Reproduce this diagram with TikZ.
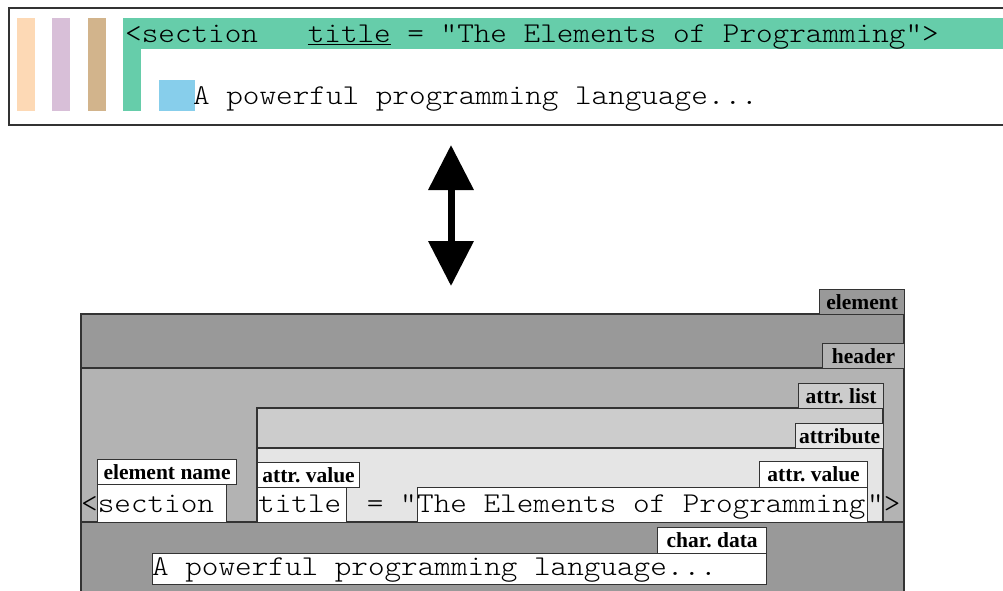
\documentclass[tikz,border=0pt]{standalone}
\usepackage{fontspec}
\setmainfont{Liberation Serif}
\newfontfamily\codefont{Latin Modern Mono Light}[FakeStretch=1.102]
\usetikzlibrary{arrows.meta}
\definecolor{peach}{HTML}{FDD9B5}
\definecolor{lilac}{HTML}{D8BFD8}
\definecolor{tanbar}{HTML}{D2B48C}
\definecolor{seagreen}{HTML}{66CDAA}
\definecolor{sky}{HTML}{87CEEB}
\definecolor{edge}{HTML}{333333}
\definecolor{elemgray}{HTML}{999999}
\definecolor{headgray}{HTML}{B3B3B3}
\definecolor{listgray}{HTML}{CCCCCC}
\definecolor{attrgray}{HTML}{E5E5E5}
\begin{document}
\begin{tikzpicture}[x=1pt,y=-1pt,
  code/.style={font=\codefont\fontsize{28.7}{30}\selectfont, inner sep=0pt, anchor=base west},
  tag/.style={draw=edge, line width=1.2pt, font=\bfseries\fontsize{21.5}{24}\selectfont,
              inner sep=0pt, text height=14pt, text depth=0pt, anchor=north west},
  region/.style={draw=edge, line width=1.2pt},
  plain/.style={draw=edge, line width=1.2pt, fill=white, inner sep=0pt, anchor=north west}]
\useasboundingbox (0,0) rectangle (1003,590);
\fill[white] (0,0) rectangle (1003,590);

% --- source text with coloured nesting bars ---
\draw[edge, line width=2pt] (9,8) rectangle (1012,125);
\fill[peach]   (17,18) rectangle (35,111);
\fill[lilac]   (52,18) rectangle (70,111);
\fill[tanbar]  (88,18) rectangle (106,111);
\fill[seagreen] (123,18) rectangle (1012,49);
\fill[seagreen] (123,49) rectangle (141,111);
\fill[sky]     (159,80) rectangle (195,111);
\node[code] (srcline) at (125,42.7) {<section\ \ \ \underline{title} = "The Elements of Programming">};
\node[code] (srcdata) at (193,104.7) {A powerful programming language...};

% --- two-way arrow ---
\coordinate (arrowtop) at (451,145);
\coordinate (arrowbot) at (451,286);
\draw[line width=7pt, {Triangle[width=44pt,length=45pt]}-{Triangle[width=44pt,length=45pt]}] (arrowtop) -- (arrowbot);

% --- nested structure ---
\draw[region, fill=elemgray] (81,314) rectangle (904,600);
\draw[region, fill=headgray] (81,368) rectangle (904,522);
\draw[region, fill=listgray] (257,408) rectangle (883,522);
\draw[region, fill=attrgray] (257,448) rectangle (883,522);

\node[tag, fill=elemgray, minimum width=85pt,  minimum height=25pt] (tagelement) at (819,289) {element};
\node[tag, fill=headgray, minimum width=82pt,  minimum height=25pt] (tagheader)  at (822,343) {header};
\node[tag, fill=listgray, minimum width=85pt,  minimum height=25pt] (taglist)    at (798,383) {attr.\ list};
\node[tag, fill=attrgray, minimum width=88pt,  minimum height=25pt] (tagattr)    at (795,423) {attribute};
\node[tag, fill=white,    minimum width=139pt, minimum height=25pt] (tagname)    at (97,459)  {element name};
\node[tag, fill=white,    minimum width=102pt, minimum height=25pt] (tagvalL)    at (257,462) {attr.\ value};
\node[tag, fill=white,    minimum width=108pt, minimum height=26pt] (tagvalR)    at (759,461) {attr.\ value};
\node[tag, fill=white,    minimum width=109pt, minimum height=26pt] (tagchar)    at (657,527) {char.\ data};

\node[plain, minimum width=129pt, minimum height=38pt] (namebox)  at (97,484)  {};
\node[plain, minimum width=89pt,  minimum height=35pt] (titlebox) at (257,487) {};
\node[plain, minimum width=450pt, minimum height=35pt] (valuebox) at (417,487) {};
\node[plain, minimum width=614pt, minimum height=31pt] (charbox)  at (152,553) {};

\node[code] (ltsign)    at (81,512)  {<};
\node[code] (nametext)  at (97.6,512) {section};
\node[code] (titletext) at (258,512) {title};
\node[code, anchor=base east] (eqtext) at (417,512) {\ =\ "};
\node[code] (valuetext) at (417,512) {The Elements of Programming};
\node[code] (closetext) at (867,512) {">};
\node[code] (chartext)  at (152,575) {A powerful programming language...};
\end{tikzpicture}
\end{document}
